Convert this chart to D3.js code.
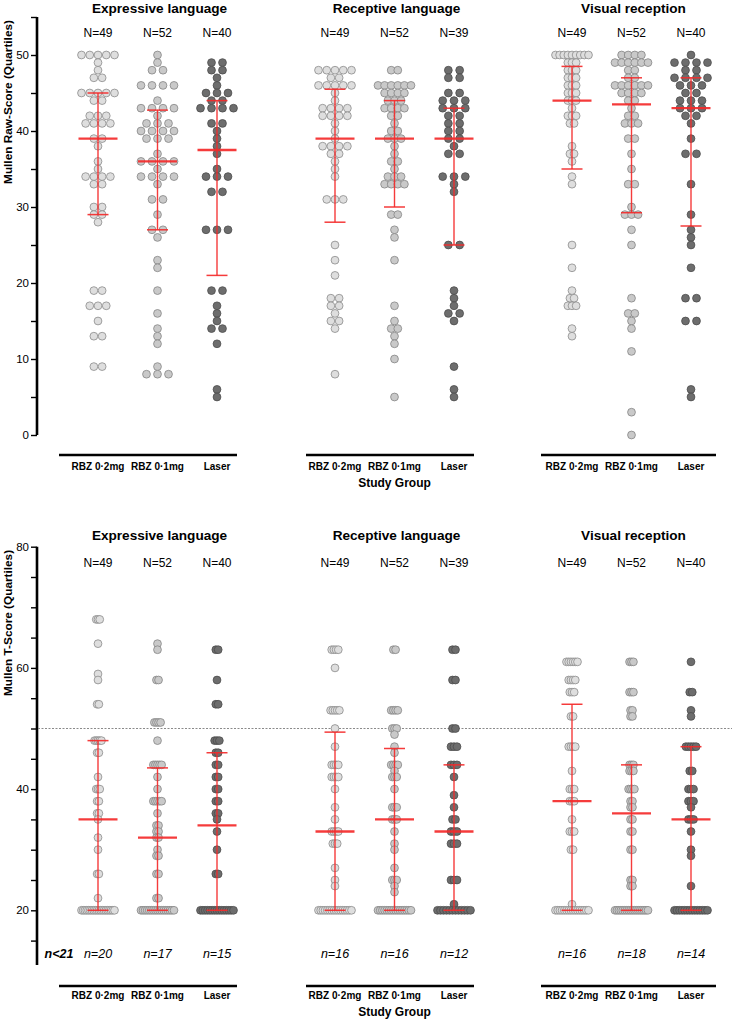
<!DOCTYPE html>
<html><head><meta charset="utf-8">
<script src="https://cdnjs.cloudflare.com/ajax/libs/d3/7.8.5/d3.min.js"></script>
<style>
body{margin:0;background:#fff}
svg{display:block}
text{font-family:Helvetica, Arial, 'Liberation Sans', sans-serif;fill:#000}
</style>
</head><body>
<svg id="c" width="732" height="1020"></svg>
<script>
// ---------------- DATA ----------------
const groups = ["RBZ 0·2mg", "RBZ 0·1mg", "Laser"];
const domains = ["Expressive language", "Receptive language", "Visual reception"];
const rawN = [[49, 52, 40], [49, 52, 39], [49, 52, 40]];
const tN = [[49, 52, 40], [49, 52, 39], [49, 52, 40]];
const belowFloor = [[20, 17, 15], [16, 16, 12], [16, 18, 14]];
const rawTicks = [0, 5, 10, 15, 20, 25, 30, 35, 40, 45, 50, 55];
const rawLabels = [0, 10, 20, 30, 40, 50];
const tTicks = [15, 20, 25, 30, 35, 40, 45, 50, 55, 60, 65, 70, 75, 80];
const tLabels = [20, 40, 60, 80];
const tReference = 50;

// frequency tables: [score, number of children]
const rawExpr = [
  [[50,5],[49,1],[48,1],[47,2],[45,5],[44,2],[42,3],[41,4],[39,2],[38,1],[36,1],[35,1],[34,4],[33,2],[30,2],[29,2],[28,1],[19,2],[17,3],[15,1],[13,2],[9,2]],
  [[50,1],[49,1],[48,2],[46,4],[44,1],[43,4],[42,1],[41,3],[40,4],[39,3],[37,1],[36,4],[35,1],[34,4],[33,1],[31,2],[29,1],[27,2],[26,1],[23,1],[22,1],[19,1],[16,1],[14,1],[13,1],[12,1],[9,1],[8,3]],
  [[49,2],[48,2],[47,1],[46,1],[45,3],[44,2],[43,4],[41,2],[40,1],[39,1],[38,1],[37,1],[35,1],[34,3],[32,2],[27,3],[19,2],[17,1],[16,1],[15,1],[14,2],[12,1],[6,1],[5,1]]
];
const rawRec = [
  [[48,5],[47,2],[46,5],[45,1],[44,1],[43,4],[42,4],[41,1],[40,1],[39,1],[38,4],[37,2],[36,1],[35,1],[34,1],[31,3],[25,1],[23,1],[21,1],[18,2],[17,2],[16,1],[15,2],[14,1],[8,1]],
  [[48,2],[46,6],[45,4],[44,3],[43,4],[42,2],[41,1],[40,2],[39,3],[38,1],[37,1],[36,2],[35,1],[34,3],[33,4],[29,2],[27,1],[26,1],[23,1],[17,1],[15,1],[14,2],[13,1],[12,1],[10,1],[5,1]],
  [[48,2],[47,2],[45,2],[44,3],[43,3],[42,2],[41,2],[40,2],[39,2],[38,1],[37,2],[34,3],[33,1],[32,1],[25,2],[19,1],[18,1],[17,1],[16,2],[15,1],[9,1],[6,1],[5,1]]
];
const rawVis = [
  [[50,9],[49,3],[48,3],[47,3],[46,3],[45,3],[44,3],[43,1],[42,3],[41,2],[38,1],[37,2],[36,1],[34,1],[33,1],[25,1],[22,1],[19,1],[18,2],[17,3],[14,1],[13,1]],
  [[50,4],[49,6],[48,2],[47,2],[46,6],[45,4],[44,2],[43,1],[42,2],[41,3],[39,2],[37,1],[35,1],[33,2],[30,1],[29,3],[27,1],[25,1],[18,1],[16,2],[15,1],[14,1],[11,1],[3,1],[0,1]],
  [[50,1],[49,4],[48,2],[47,4],[46,3],[45,2],[44,3],[43,3],[42,2],[41,1],[39,1],[37,2],[33,1],[29,1],[27,1],[26,1],[25,1],[22,1],[18,2],[15,2],[6,1],[5,1]]
];
const tExpr = [
  [[68,3],[64,1],[59,1],[58,1],[54,2],[48,5],[46,2],[42,1],[40,3],[38,2],[36,2],[35,1],[32,1],[30,1],[26,2],[22,1],[20,20]],
  [[64,1],[63,1],[58,2],[51,4],[48,1],[44,5],[42,1],[40,1],[38,5],[36,1],[34,2],[33,2],[32,2],[30,1],[29,2],[26,2],[22,2],[20,17]],
  [[63,2],[58,1],[54,2],[48,3],[46,2],[44,2],[42,2],[40,2],[38,2],[36,2],[35,1],[33,1],[30,1],[26,2],[20,15]]
];
const tRec = [
  [[63,4],[60,1],[53,5],[50,1],[47,1],[44,4],[42,4],[40,1],[37,1],[35,1],[33,4],[31,3],[27,1],[25,1],[24,1],[20,16]],
  [[63,2],[53,4],[50,3],[49,1],[47,1],[46,1],[44,4],[43,1],[42,3],[40,1],[37,3],[35,3],[33,1],[31,1],[30,1],[27,1],[25,3],[24,1],[23,1],[20,16]],
  [[63,2],[58,2],[50,2],[47,3],[44,3],[42,1],[39,1],[37,1],[35,2],[33,3],[31,3],[25,3],[21,1],[20,12]]
];
const tVis = [
  [[61,6],[58,4],[56,3],[52,2],[47,4],[43,1],[40,3],[38,3],[35,1],[33,3],[30,2],[21,1],[20,16]],
  [[61,3],[56,3],[53,2],[52,2],[44,3],[43,3],[40,4],[38,2],[37,2],[35,2],[33,2],[30,2],[25,2],[24,2],[20,18]],
  [[61,1],[56,2],[53,1],[52,1],[47,5],[43,2],[40,3],[38,3],[37,1],[35,3],[33,1],[30,1],[29,1],[24,1],[20,14]]
];
// [median, Q1, Q3] per group
const rawStats = [
  [[39,29,45],[36,27,42.75],[37.5,21,44]],
  [[39,28,45.5],[39,30,44],[39,25,43]],
  [[44,35,48.5],[43.5,29.25,47],[43,27.5,47]]
];
const tStats = [
  [[35,20,48],[32,20,43.5],[34,20,46]],
  [[33,20,49.4],[35,20,46.7],[33,20,44]],
  [[38,20,54],[36,20,44],[35,20,47]]
];

// ---------------- STYLE ----------------
const fills = ["#dedede", "#c9c9c9", "#6d6d6d"];
const strokes = ["#8c8c8c", "#858585", "#4d4d4d"];
const RED = "#f42a2a";
const svg = d3.select("#c");
const panelOffset = 237;
const xInPanel = d3.scalePoint().domain(groups).range([98, 217]);
const xAxisExtent = [[59, 237], [306, 474], [541, 716]];

function drawRow(cfg) {
  const y = cfg.y;
  const g = svg.append("g");
  const ax = d3.axisLeft(y).tickValues(cfg.ticks).tickSize(6).tickSizeOuter(0)
    .tickFormat(d => cfg.labels.includes(d) ? d : "");
  const axg = g.append("g").attr("transform", "translate(37,0)").call(ax);
  axg.select(".domain").remove();
  axg.selectAll(".tick line").attr("stroke", "#000").attr("stroke-width", 1.4);
  axg.selectAll(".tick text").attr("font-size", 11.5).attr("x", -8).attr("fill", "#000");
  g.append("line").attr("x1", 37).attr("x2", 37)
    .attr("y1", cfg.axisTop).attr("y2", cfg.axisBottom)
    .attr("stroke", "#000").attr("stroke-width", 2.6);
  g.append("text").attr("transform", `translate(12,${cfg.yTitleY}) rotate(-90)`)
    .attr("text-anchor", "middle").attr("font-size", 11.8).attr("font-weight", "bold")
    .text(cfg.yTitle);

  if (cfg.refLine !== undefined) {
    g.append("line").attr("x1", 38).attr("x2", 732)
      .attr("y1", y(cfg.refLine)).attr("y2", y(cfg.refLine))
      .attr("stroke", "#8a8a8a").attr("stroke-width", 1).attr("stroke-dasharray", "2,1.5");
  }

  cfg.data.forEach((panel, p) => {
    const off = p * panelOffset;
    const cxOf = grp => xInPanel(grp) + off;
    g.append("text").attr("x", cxOf(groups[1]) + 2).attr("y", cfg.titleY)
      .attr("text-anchor", "middle").attr("font-size", 13.6).attr("font-weight", "bold")
      .text(domains[p]);
    groups.forEach((grp, k) => {
      g.append("text").attr("x", cxOf(grp)).attr("y", cfg.nY)
        .attr("text-anchor", "middle").attr("font-size", 12)
        .text("N=" + cfg.n[p][k]);
    });
    panel.forEach((col, k) => {
      const cx = cxOf(groups[k]);
      const maxRow = d3.max(col, d => d[1]);
      const sp = maxRow > 1 ? Math.min(11.3, 33 / (maxRow - 1)) : 0;
      const pts = [];
      col.forEach(([v, c]) => {
        for (let i = 0; i < c; i++) pts.push({v, dx: (i - (c - 1) / 2) * sp});
      });
      g.append("g").selectAll("circle").data(pts).join("circle")
        .attr("cx", d => cx + d.dx).attr("cy", d => y(d.v)).attr("r", 3.9)
        .attr("fill", fills[k]).attr("stroke", strokes[k]).attr("stroke-width", 0.8);
    });
    cfg.stats[p].forEach(([med, q1, q3], k) => {
      const cx = cxOf(groups[k]);
      const eb = g.append("g").attr("stroke", RED).attr("stroke-opacity", 0.92);
      eb.append("line").attr("x1", cx).attr("x2", cx).attr("y1", y(q1)).attr("y2", y(q3)).attr("stroke-width", 1.4);
      [q1, q3].forEach(q => eb.append("line").attr("x1", cx - 10.5).attr("x2", cx + 10.5)
        .attr("y1", y(q)).attr("y2", y(q)).attr("stroke-width", 1.5));
      eb.append("line").attr("x1", cx - 19.5).attr("x2", cx + 19.5)
        .attr("y1", y(med)).attr("y2", y(med)).attr("stroke-width", 2.3);
    });
    if (cfg.below) {
      groups.forEach((grp, k) => {
        g.append("text").attr("x", cxOf(grp)).attr("y", cfg.belowY)
          .attr("text-anchor", "middle").attr("font-size", 12.5).attr("font-style", "italic")
          .text("n=" + cfg.below[p][k]);
      });
    }
    g.append("line").attr("x1", xAxisExtent[p][0]).attr("x2", xAxisExtent[p][1])
      .attr("y1", cfg.xLineY).attr("y2", cfg.xLineY).attr("stroke", "#000").attr("stroke-width", 2.6);
    groups.forEach(grp => {
      g.append("text").attr("x", cxOf(grp)).attr("y", cfg.xLabY)
        .attr("text-anchor", "middle").attr("font-size", 10).attr("font-weight", "bold")
        .text(grp);
    });
  });
  if (cfg.below) {
    g.append("text").attr("x", 59).attr("y", cfg.belowY).attr("text-anchor", "middle")
      .attr("font-size", 12.5).attr("font-style", "italic").attr("font-weight", "bold").text("n<21");
  }
  g.append("text").attr("x", xInPanel(groups[1]) + panelOffset).attr("y", cfg.studyY)
    .attr("text-anchor", "middle").attr("font-size", 12).attr("font-weight", "bold").text("Study Group");
}

drawRow({
  y: d3.scaleLinear().domain([0, 55]).range([435, 17]),
  ticks: rawTicks, labels: rawLabels, axisTop: 17, axisBottom: 435,
  yTitle: "Mullen Raw-Score (Quartiles)", yTitleY: 102,
  data: [rawExpr, rawRec, rawVis], stats: rawStats, n: rawN,
  titleY: 13, nY: 37, xLineY: 455, xLabY: 470, studyY: 487
});
drawRow({
  y: d3.scaleLinear().domain([20, 80]).range([910.3, 546.7]),
  ticks: tTicks, labels: tLabels, axisTop: 546.7, axisBottom: 965,
  yTitle: "Mullen T-Score (Quartiles)", yTitleY: 623, refLine: tReference,
  data: [tExpr, tRec, tVis], stats: tStats, n: tN, below: belowFloor, belowY: 957.5,
  titleY: 540, nY: 567, xLineY: 986, xLabY: 999, studyY: 1016
});
</script>
</body></html>
